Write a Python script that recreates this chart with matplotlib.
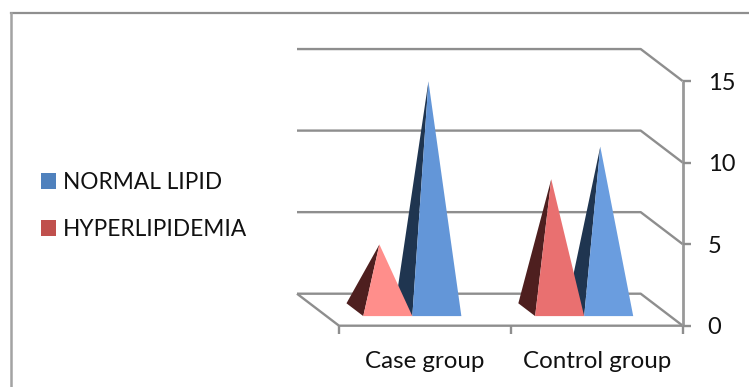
import matplotlib
matplotlib.use("Agg")
import matplotlib.pyplot as plt
from matplotlib.lines import Line2D
from matplotlib.patches import Patch, Polygon

categories = ["Case group", "Control group"]
normal_lipid = [14, 10]
hyperlipidemia = [4, 8]
value_ticks = [0, 5, 10, 15]

W, H = 749, 387
plt.rcParams["font.family"] = ["Lato", "Open Sans", "DejaVu Sans"]

fig = plt.figure(figsize=(W / 100, H / 100), dpi=100, facecolor="white")
ax = fig.add_axes([0, 0, 1, 1])
ax.axis("off")

# Data limits chosen so one category spans 171.85 px and one value unit 16.31 px,
# with the front-right floor corner at pixel (682.7, 325.7).
px_x, px_y = 171.85, 16.31
ax.set_xlim(-339 / px_x, (W - 339) / px_x)
ax.set_ylim(-(H - 325.7) / px_y, 325.7 / px_y)

# Oblique projection: depth 1 is the back wall.
DEPTH_X, DEPTH_Y = -42 / px_x, 32 / px_y


def project(x, value, depth=0.0):
    return x + DEPTH_X * depth, value + DEPTH_Y * depth


GRID = "#8e8e8e"
line_kw = dict(color=GRID, lw=1.7, solid_capstyle="butt", zorder=1)

# Gridlines on the back wall and the side wall
for v in value_ticks:
    bx0, by = project(0, v, 1)
    bx1, _ = project(2, v, 1)
    fx, fy = project(2, v, 0)
    ax.plot([bx0, bx1, fx], [by, by, fy], **line_kw)

# Floor edges and front axes
fl_x, fl_y = project(0, 0, 1)
ax.plot([fl_x, 0, 2], [fl_y, 0, 0], **line_kw)
ax.plot([2, 2], [0, value_ticks[-1]], **{**line_kw, "color": "#999999", "lw": 2})

TICK_X = 8.5 / px_x
TICK_Y = 8.5 / px_y
for v in value_ticks:
    ax.plot([2, 2 + TICK_X], [v, v], **line_kw)
    ax.text(2 + 25 / px_x, v - 0.13, str(v), fontsize=17, color="#111111",
            ha="left", va="center")
for x in range(len(categories) + 1):
    ax.plot([x, x], [0, -TICK_Y], **line_kw)
for i, name in enumerate(categories):
    ax.text(i + 0.5, -36 / px_y, name, fontsize=17.4, color="#111111",
            ha="center", va="center")

# Pyramids
HALF = 0.1427
OFFSET = 0.1427
D0, D1 = 0.3, 0.7


def pyramid(center, value, front, side, z):
    l, r = center - HALF, center + HALF
    fl = project(l, 0, D0)
    fr = project(r, 0, D0)
    bl = project(l, 0, D1)
    apex = project(center, value, (D0 + D1) / 2)
    ax.add_patch(Polygon([bl, fl, apex], closed=True, fc=side, ec="none", zorder=z))
    ax.add_patch(Polygon([fl, fr, apex], closed=True, fc=front, ec="none", zorder=z + 0.1))


normal_front = ["#6396D8", "#6A9DDF"]
normal_side = ["#1F3550", "#1F3550"]
hyper_front = ["#FF8E8B", "#E97070"]
hyper_side = ["#4E1F1F", "#4E1F1F"]

for i in range(len(categories)):
    pyramid(i + 0.5 + OFFSET, normal_lipid[i], normal_front[i], normal_side[i], 3)
    pyramid(i + 0.5 - OFFSET, hyperlipidemia[i], hyper_front[i], hyper_side[i], 4)

# Legend
handles = [Patch(fc="#4F81BD", ec="none", label="NORMAL LIPID"),
           Patch(fc="#C0504D", ec="none", label="HYPERLIPIDEMIA")]
fig.legend(handles=handles, loc="center left", bbox_to_anchor=(41 / W, 1 - 206 / H),
           frameon=False, fontsize=16.3, handlelength=0.66, handleheight=0.66,
           handletextpad=0.31, labelspacing=1.15, borderpad=0, borderaxespad=0,
           labelcolor="#111111")

# Chart frame: top and left edges only
fig.add_artist(Line2D([11 / W, 1], [1 - 13 / H, 1 - 13 / H], color="#8f8f8f", lw=1.6))
fig.add_artist(Line2D([11 / W, 11 / W], [1 - 13 / H, 0], color="#a3a3a3", lw=1.8))

fig.savefig("out.png", dpi=100)
